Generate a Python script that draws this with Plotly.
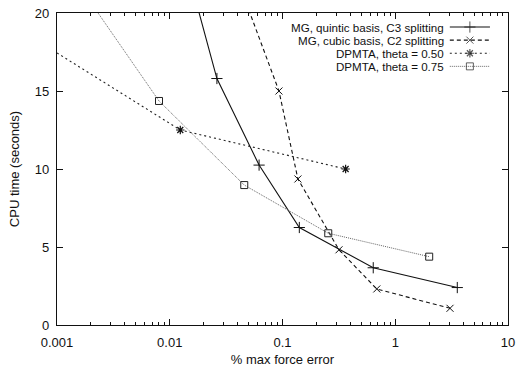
import plotly.graph_objects as go

# ---- data ----
names = ["MG, quintic basis, C3 splitting", "MG, cubic basis, C2 splitting",
         "DPMTA, theta = 0.50", "DPMTA, theta = 0.75"]

quintic_x = [0.0129, 0.0262, 0.062, 0.141, 0.638, 3.55]
quintic_y = [24.0, 15.8, 10.25, 6.25, 3.67, 2.4]

cubic_x = [0.032, 0.093, 0.137, 0.317, 0.686, 3.06]
cubic_y = [24.0, 15.0, 9.36, 4.82, 2.31, 1.07]

dp50_x = [0.0005, 0.0124, 0.363]
dp50_y = [18.8, 12.5, 10.0]

dp75_x = [0.001, 0.00803, 0.0458, 0.2546, 2.0]
dp75_y = [23.8, 14.36, 8.97, 5.88, 4.38]

x_tickvals = [0.001, 0.01, 0.1, 1, 10]
x_ticktext = ["0.001", "0.01", "0.1", "1", "10"]
y_tickvals = [0, 5, 10, 15, 20]

FONT = "Liberation Sans, Arial, Helvetica, sans-serif"
styles = [
    dict(line=dict(color="#111", width=1.1, dash="solid"),
         marker=dict(symbol="cross-thin", size=8, line=dict(color="#111", width=1))),
    dict(line=dict(color="#111", width=1.1, dash="4px,3px"),
         marker=dict(symbol="x-thin", size=7, line=dict(color="#111", width=1))),
    dict(line=dict(color="#222", width=1.1, dash="2px,3px"),
         marker=dict(symbol="asterisk", size=7, line=dict(color="#111", width=1.2))),
    dict(line=dict(color="#666", width=1, dash="1px,1px"),
         marker=dict(symbol="square-open", size=7, color="#222", line=dict(color="#222", width=1))),
]
series = [(quintic_x, quintic_y), (cubic_x, cubic_y), (dp50_x, dp50_y), (dp75_x, dp75_y)]

fig = go.Figure()
for (xs, ys), st, nm in zip(series, styles, names):
    fig.add_trace(go.Scatter(x=xs, y=ys, mode="lines+markers", name=nm,
                             line=st["line"], marker=st["marker"], showlegend=False))

# ---- custom legend (sample on the right of the text, gnuplot style) ----
leg_rows = [0.955, 0.913, 0.871, 0.829]
leg_x0, leg_x1, leg_text_x = 0.871, 0.960, 0.860
for st, nm, ry in zip(styles, names, leg_rows):
    mk = dict(st["marker"])
    mk["size"] = [0, mk["size"], 0]
    fig.add_trace(go.Scatter(x=[leg_x0, (leg_x0 + leg_x1) / 2, leg_x1], y=[ry, ry, ry],
                             xaxis="x2", yaxis="y2", mode="lines+markers",
                             line=st["line"], marker=mk, showlegend=False, hoverinfo="skip"))
    fig.add_annotation(x=leg_text_x, y=ry, xref="paper", yref="paper", text=nm,
                       showarrow=False, xanchor="right", yanchor="middle",
                       font=dict(family=FONT, size=11.6, color="#111"),
                       borderpad=0)

axis_common = dict(showline=True, linecolor="#111", linewidth=1.3, mirror="ticks",
                   ticks="inside", tickcolor="#111", showgrid=False, zeroline=False,
                   automargin=False,
                   tickfont=dict(family=FONT, size=13, color="#111"))

fig.update_layout(
    width=519, height=368,
    margin=dict(l=57, r=11, t=13, b=43),
    paper_bgcolor="white", plot_bgcolor="white",
    font=dict(family=FONT, size=13, color="#111"),
    xaxis=dict(type="log", range=[-3, 1], tickvals=x_tickvals, ticktext=x_ticktext,
               ticklen=6, ticklabelstandoff=5,
               minor=dict(ticks="inside", ticklen=3, tickcolor="#111", dtick="D1", showgrid=False),
               title=dict(text="% max force error", font=dict(family=FONT, size=13), standoff=6),
               **axis_common),
    yaxis=dict(range=[0, 20], tickvals=y_tickvals, ticklen=6, ticklabelstandoff=4,
               title=dict(text="CPU time (seconds)", font=dict(family=FONT, size=13), standoff=12),
               **axis_common),
    xaxis2=dict(overlaying="x", range=[0, 1], visible=False),
    yaxis2=dict(overlaying="y", range=[0, 1], visible=False),
)

fig.write_html("out.html")
